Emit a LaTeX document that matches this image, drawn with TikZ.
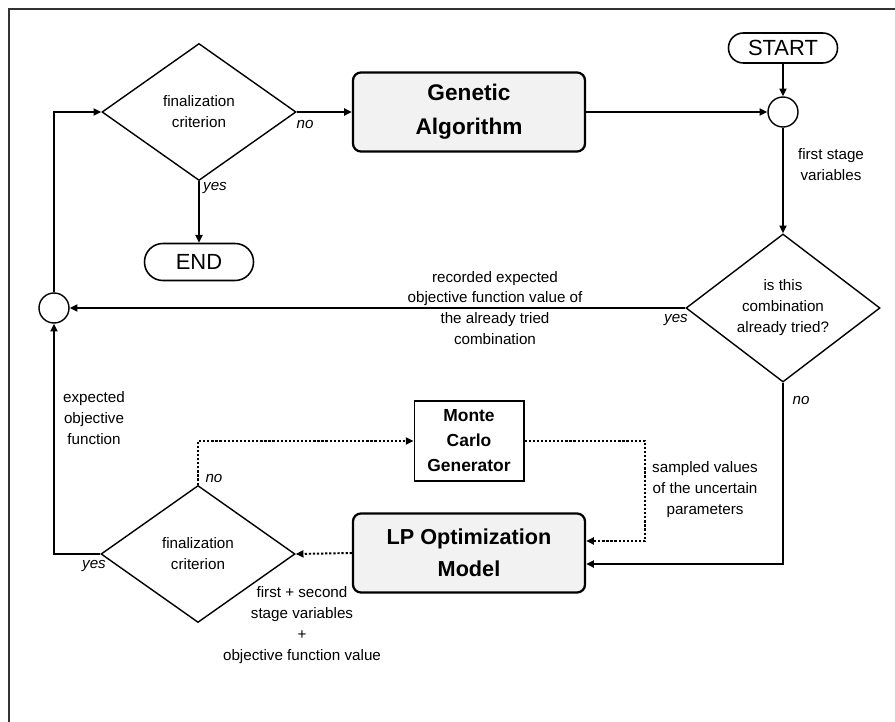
\documentclass[tikz,border=0pt]{standalone}
\usepackage{fontspec}
\setmainfont{Liberation Sans}
\usepackage{tikz}
\usetikzlibrary{positioning, arrows.meta, shapes.geometric}
\newcommand{\notesize}{\fontsize{10.8pt}{14.9pt}\selectfont}
\newcommand{\gasize}{\fontsize{16.1pt}{24.2pt}\selectfont\bfseries}
\newcommand{\lpsize}{\fontsize{15.4pt}{22.8pt}\selectfont\bfseries}
\newcommand{\mcsize}{\fontsize{12.4pt}{17.8pt}\selectfont\bfseries}
\newcommand{\termsize}{\fontsize{15.6pt}{18pt}\selectfont}
\tikzset{
    decision/.style={diamond, draw=black, line width=1pt, minimum width=4.85cm, minimum height=3.425cm, inner sep=0pt, align=center, font=\notesize},
    process/.style={rectangle, draw=black, line width=1.6pt, fill=black!5, rounded corners=0.2cm, minimum width=5.8cm, minimum height=1.975cm, align=center},
    gen/.style={rectangle, draw=black, line width=1.4pt, fill=white, minimum width=2.725cm, minimum height=2cm, inner sep=0pt, align=center, font=\mcsize},
    term/.style={rectangle, draw=black, line width=1.1pt, rounded corners=0.37cm, minimum width=2.725cm, minimum height=0.75cm, inner sep=0pt, align=center, font=\termsize},
    junction/.style={circle, draw=black, line width=1pt, minimum size=0.75cm, inner sep=0pt},
    arrow/.style={-{Triangle[length=5.5pt, width=5pt]}, line width=1.4pt},
    mcarrow/.style={arrow, dash pattern=on 1.6pt off 1.3pt},
    note/.style={font=\notesize, align=center, inner sep=0pt},
    answer/.style={font=\notesize\itshape, inner sep=0pt}
}
\begin{document}
\begin{tikzpicture}[x=0.025cm, y=-0.025cm]
    \useasboundingbox (0,0) rectangle (895,722);
    % frame, cut by the page
    \draw[line width=1pt, black!80] (895,9) -- (9,9) -- (9,722);

    % --- OUTER LOOP ---
    \node[term] (START) at (783,48) {START};
    \node[junction] (J1) at (783,112) {};
    \node[decision] (D1) at (199,112) {finalization\\criterion};
    \node[process, font=\gasize] (GA) at (469,112) {Genetic\\Algorithm};
    \node[term, minimum height=0.925cm, rounded corners=0.46cm] (END) at (199,262) {END};
    \node[decision] (D2) at (783,308) {is this\\combination\\already tried?};
    \node[junction] (J2) at (54,308) {};

    \draw[arrow] (START) -- (J1);
    \draw[arrow] (D1.east) -- (GA.west);
    \draw[arrow] (GA.east) -- (J1.west);
    \draw[arrow] (D1.south) -- (END);
    \draw[arrow] (J1) -- (D2.north);
    \draw[arrow] (D2.west) -- (J2.east);
    \draw[arrow] (J2.north) |- (D1.west);

    \node[answer] (noD1) at (305,124) {no};
    \node[answer] (yesD1) at (215,188) {yes};
    \node[note] (firstVars) at (831,165) {first stage\\variables};
    \node[note] (recorded) at (495,308) {recorded expected\\objective function value of\\the already tried\\combination};
    \node[answer] (yesD2) at (676,320) {yes};
    \node[answer] (noD2) at (801,400) {no};

    % --- INNER LOOP ---
    \node[gen] (MC) at (469,441) {Monte\\Carlo\\Generator};
    \node[process, font=\lpsize] (LP) at (469,553) {LP Optimization\\Model};
    \node[decision] (D3) at (198,554) {finalization\\criterion};
    \coordinate (mcTurn) at (645,441);

    \draw[arrow] (D2.south) |- ([yshift=-0.275cm]LP.east);
    \draw[mcarrow] (D3.north) |- (MC.west);
    \draw[mcarrow] (MC.east) -- (mcTurn) |- ([yshift=0.3cm]LP.east);
    \draw[mcarrow] (LP.west) -- (D3.east);
    \draw[arrow] (D3.west) -| (J2.south);

    \node[note] (expObj) at (94,418) {expected\\objective\\function};
    \node[answer] (noD3) at (214,478) {no};
    \node[answer] (yesD3) at (94,566) {yes};
    \node[note] (sampled) at (705,490) {sampled values\\of the uncertain\\parameters};
    \node[note] (lpOut) at (302,625) {first + second\\stage variables\\+\\objective function value};
\end{tikzpicture}
\end{document}
